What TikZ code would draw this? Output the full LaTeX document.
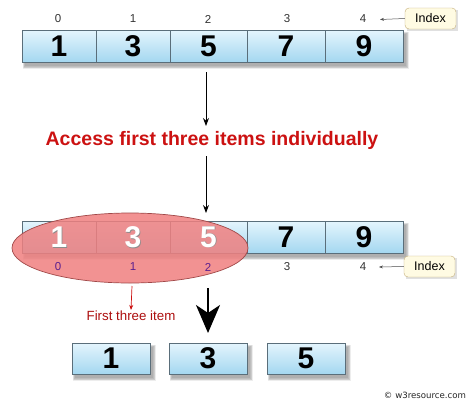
\documentclass[tikz,border=0pt]{standalone}
\usepackage{fontspec}
\setmainfont{Liberation Sans}
\newfontfamily\cfont{DejaVu Sans}
\usetikzlibrary{arrows.meta}
\definecolor{celltop}{HTML}{E4F5FD}
\definecolor{cellbot}{HTML}{A4D7F0}
\definecolor{cellline}{HTML}{5A6E7A}
\definecolor{idxfill}{HTML}{FFFBE3}
\definecolor{idxline}{HTML}{C4AE78}
\definecolor{titlered}{HTML}{CC1111}
\definecolor{ellfill}{HTML}{F08080}
\definecolor{ellline}{HTML}{A04848}
\definecolor{idxpurple}{HTML}{5B1F8F}
\newcommand\softshadow[4]{%
  \foreach \k in {0,...,4}{%
    \fill[black,opacity=0.07] (#1+3-\k*0.6,#2+4-\k*0.6) rectangle (#3+3+\k*0.8,#4+4+\k*0.8);}%
}
\begin{document}
\begin{tikzpicture}[x=1pt,y=-1pt,
  cell/.style={draw=cellline,line width=0.6pt,top color=celltop,bottom color=cellbot,
    minimum height=32pt,inner sep=0pt,font=\fontsize{30}{30}\selectfont\bfseries,text=black},
  digit/.style={font=\fontsize{30}{30}\selectfont\bfseries,inner sep=0pt},
  idxlab/.style={font=\fontsize{11.5}{11.5}\selectfont,text=black!80,inner sep=0pt},
  idxbox/.style={draw=idxline,fill=idxfill,rounded corners=4pt,minimum width=51pt,
    minimum height=21pt,inner sep=0pt,font=\fontsize{12.5}{12.5}\selectfont},
  idxarrow/.style={draw=black!70,line width=0.5pt,-{Stealth[length=4pt,width=3pt]}},
  downarrow/.style={draw=black,line width=1pt,-{Stealth[length=8pt,width=6pt]}},
  bigarrow/.style={draw=black,line width=2.2pt,-{Stealth[length=28pt,width=24pt,inset=8pt]}}
]
\useasboundingbox (0,0) rectangle (474,405);
\fill[white] (0,0) rectangle (474,405);

% ---------- top array ----------
\softshadow{22}{30}{403}{62}
\node[cell,minimum width=74pt] (a0) at (59,46) {1};
\node[cell,minimum width=74pt] (a1) at (133,46) {3};
\node[cell,minimum width=77pt] (a2) at (208.5,46) {5};
\node[cell,minimum width=78pt] (a3) at (286,46) {7};
\node[cell,minimum width=78pt] (a4) at (364,46) {9};
\node[idxlab] (t0) at (58,19) {0};
\node[idxlab] (t1) at (133,19) {1};
\node[idxlab] (t2) at (208,19) {2};
\node[idxlab] (t3) at (287,19) {3};
\node[idxlab] (t4) at (363,19) {4};
\fill[black,opacity=0.12] (407,10) rectangle (458,31);
\node[idxbox] (ib1) at (430.5,18.5) {Index};
\coordinate (ia1) at (380,19.5);
\draw[idxarrow] (ib1.west) -- (ia1);

% ---------- arrows and title ----------
\coordinate (s1) at (206,72);
\coordinate (e1) at (206,126);
\draw[downarrow] (s1) -- (e1);
\node[font=\fontsize{19.5}{19.5}\selectfont\bfseries,text=titlered] (title) at (212,140) {Access first three items individually};
\coordinate (s2) at (206,156);
\coordinate (e2) at (206,213);
\draw[downarrow] (s2) -- (e2);

% ---------- second array ----------
\softshadow{22}{221}{403}{253}
\node[cell,minimum width=74pt] (b0) at (59,237) {};
\node[cell,minimum width=74pt] (b1) at (133,237) {};
\node[cell,minimum width=77pt] (b2) at (208.5,237) {};
\node[cell,minimum width=78pt] (b3) at (286,237) {7};
\node[cell,minimum width=78pt] (b4) at (364,237) {9};
\node[idxlab] (u3) at (287,267) {3};
\node[idxlab] (u4) at (363,267) {4};
\fill[black,opacity=0.12] (406,258) rectangle (457,279);
\node[idxbox] (ib2) at (429.5,266.5) {Index};
\coordinate (ia2) at (379,267);
\draw[idxarrow] (ib2.west) -- (ia2);

% ellipse
\fill[ellfill,opacity=0.85] (130,248) ellipse [x radius=118, y radius=35];
\draw[ellline,line width=0.7pt] (130,248) ellipse [x radius=118, y radius=35];
\foreach \n/\v in {b0/1,b1/3,b2/5}{
  \node[digit,text=black!45] at ([shift={(0.8pt,-0.8pt)}]\n.center) {\v};
  \node[digit,text=white] at (\n.center) {\v};
}
\node[idxlab,text=idxpurple] (u0) at (58,267) {0};
\node[idxlab,text=idxpurple] (u1) at (133,267) {1};
\node[idxlab,text=idxpurple] (u2) at (208,267) {2};

% first three item
\coordinate (r1) at (132,286);
\node[font=\fontsize{13.3}{13.3}\selectfont,text=titlered!85!black,inner sep=1pt] (fti) at (131,316) {First three item};
\draw[draw=titlered,line width=0.7pt,-{Stealth[length=5pt,width=4pt]}] (r1) -- (fti.north);

% big arrow
\coordinate (g1) at (208,288);
\coordinate (g2) at (208,333);
\draw[bigarrow] (g1) -- (g2);

% ---------- bottom boxes ----------
\softshadow{72}{343}{150}{374}
\softshadow{169}{343}{247}{374}
\softshadow{267}{343}{345}{374}
\node[cell,minimum width=78pt,minimum height=31pt] (c0) at (111,358.5) {1};
\node[cell,minimum width=78pt,minimum height=31pt] (c1) at (208,358.5) {3};
\node[cell,minimum width=78pt,minimum height=31pt] (c2) at (306,358.5) {5};

\node[font=\cfont\fontsize{8.6}{8.6}\selectfont,text=black!85] (copy) at (425,395) {© w3resource.com};
\end{tikzpicture}
\end{document}
